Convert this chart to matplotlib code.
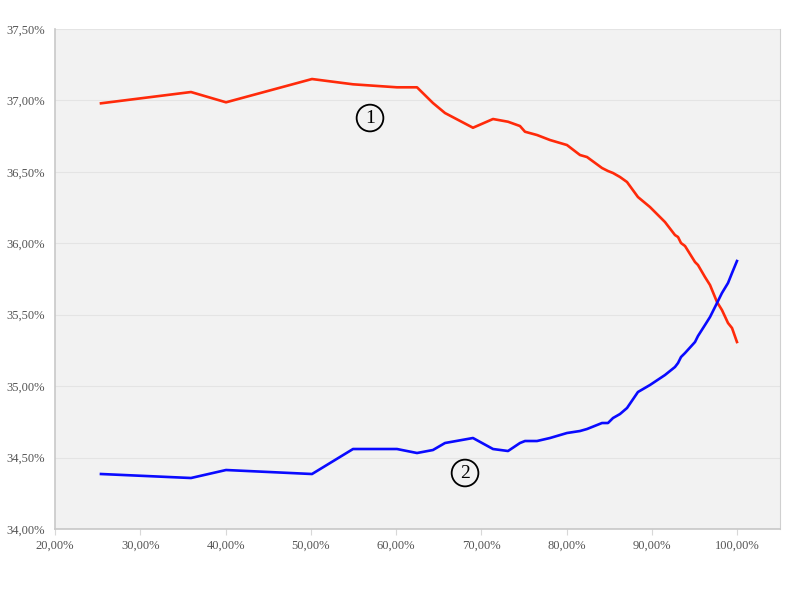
import matplotlib
matplotlib.use("Agg")
import matplotlib.pyplot as plt
from matplotlib.ticker import FuncFormatter, MultipleLocator

x_pct = [25.39, 35.94, 40.05, 50.13, 54.94, 60.09, 62.44, 64.31, 65.72, 69.00,
         71.35, 73.11, 74.51, 75.10, 76.51, 78.03, 80.02, 81.55, 82.37, 84.13,
         84.83, 85.42, 86.24, 87.06, 88.34, 89.75, 91.51, 92.68, 93.04, 93.39,
         93.86, 95.03, 95.38, 96.20, 96.79, 97.61, 98.19, 98.90, 99.37, 99.95]

series1 = [36.980, 37.059, 36.987, 37.150, 37.113, 37.092, 37.092, 36.982, 36.912, 36.809,
           36.870, 36.851, 36.821, 36.781, 36.758, 36.723, 36.688, 36.618, 36.604, 36.527,
           36.506, 36.492, 36.464, 36.429, 36.324, 36.254, 36.149, 36.058, 36.044, 36.002,
           35.981, 35.869, 35.848, 35.764, 35.708, 35.589, 35.533, 35.442, 35.407, 35.309]

series2 = [34.385, 34.357, 34.413, 34.385, 34.560, 34.560, 34.532, 34.553, 34.602, 34.637,
           34.560, 34.546, 34.602, 34.616, 34.616, 34.637, 34.672, 34.686, 34.700, 34.742,
           34.742, 34.777, 34.805, 34.847, 34.959, 35.008, 35.078, 35.134, 35.162, 35.204,
           35.232, 35.309, 35.351, 35.428, 35.484, 35.582, 35.652, 35.722, 35.792, 35.876]

labels = ["1", "2"]
label_pos = [(56.93, 36.877), (68.07, 34.392)]

fig = plt.figure(figsize=(8, 5.96), dpi=100)
ax = fig.add_axes([0.06875, 0.1124, 0.9063, 0.8389])
ax.set_facecolor("#f2f2f2")

ax.plot(x_pct, series1, color="#ff2a0a", lw=1.9, solid_joinstyle="round", zorder=3)
ax.plot(x_pct, series2, color="#0a0aff", lw=1.9, solid_joinstyle="round", zorder=3)

for lab, (lx, ly) in zip(labels, label_pos):
    ax.text(lx, ly, lab, ha="center", va="center", fontsize=14, family="Liberation Serif",
            color="black", zorder=4,
            bbox=dict(boxstyle="circle,pad=0.25", fc="none", ec="black", lw=1.3))

ax.set_xlim(20, 105)
ax.set_ylim(34.0, 37.5)
ax.yaxis.set_major_locator(MultipleLocator(0.5))
ax.set_xticks([20, 30, 40, 50, 60, 70, 80, 90, 100])

fmt = FuncFormatter(lambda v, p: ("%.2f%%" % v).replace(".", ","))
ax.xaxis.set_major_formatter(fmt)
ax.yaxis.set_major_formatter(fmt)

ax.grid(axis="y", color="#e4e4e4", lw=0.8, zorder=0)
ax.set_axisbelow(True)
for s in ["left", "bottom"]:
    ax.spines[s].set_color("#c8c8c8")
    ax.spines[s].set_linewidth(1.2)
ax.spines["right"].set_color("#d0d0d0")
ax.spines["top"].set_visible(False)

ax.tick_params(axis="both", colors="#d8d8d8", labelcolor="#555555", labelsize=9, length=4, width=0.8)
ax.tick_params(axis="y", length=0, pad=7)
ax.tick_params(axis="x", pad=4)
for t in ax.get_xticklabels() + ax.get_yticklabels():
    t.set_family("Liberation Serif")

fig.savefig("out.png", dpi=100, facecolor="white")
